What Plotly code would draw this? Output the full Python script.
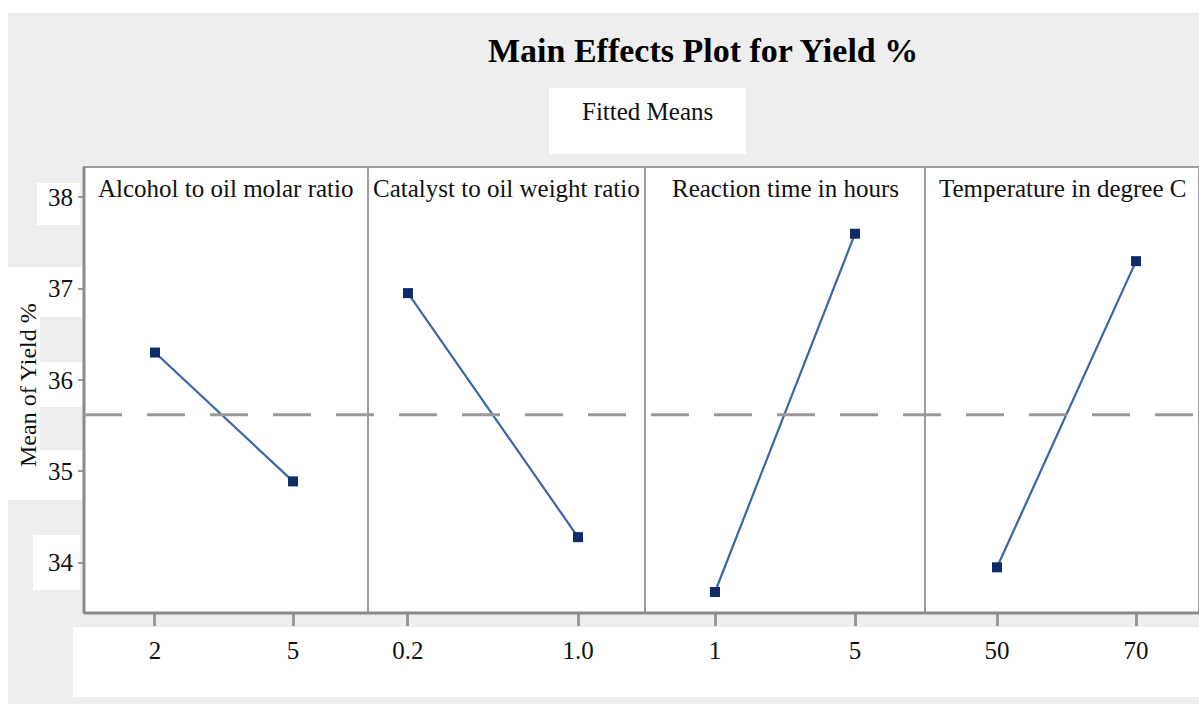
import numpy as np
import plotly.graph_objects as go

# Factors, their two levels and the fitted mean yield at each level
factors = ["Alcohol to oil molar ratio", "Catalyst to oil weight ratio",
           "Reaction time in hours", "Temperature in degree C"]
levels = [[2, 5], [0.2, 1.0], [1, 5], [50, 70]]
level_labels = [["2", "5"], ["0.2", "1.0"], ["1", "5"], ["50", "70"]]
fitted_means = [[36.30, 34.89], [36.95, 34.28], [33.68, 37.60], [33.95, 37.30]]
y_ticks = [34, 35, 36, 37, 38]

W, H = 1199, 704
FONT = "Liberation Serif, Times New Roman, serif"

# panel layout in pixels
panel_edges = [84, 368, 645, 925, 1199]
plot_top, plot_bottom = 167, 613
y_range = [33.45, 38.33]
# padding either side of the two levels, as a fraction of their spacing
pads = [(0.514, 0.543), (0.235, 0.394), (0.5, 0.5), (0.518, 0.453)]


def px(x):
    return x / W


def py(y):
    return 1 - y / H


grand_mean = float(np.mean(fitted_means))

fig = go.Figure()
for i, (lv, ym) in enumerate(zip(levels, fitted_means)):
    xa = "x" if i == 0 else f"x{i + 1}"
    fig.add_trace(go.Scatter(
        x=lv, y=ym, xaxis=xa, yaxis="y", mode="lines+markers",
        line=dict(color="#3a66a3", width=2.2),
        marker=dict(symbol="square", size=10, color="#0e2c69"),
        showlegend=False, hoverinfo="x+y",
    ))

layout = dict(
    width=W, height=H, autosize=False,
    margin=dict(l=0, r=0, t=0, b=0),
    paper_bgcolor="white", plot_bgcolor="white",
    font=dict(family=FONT, color="#111111"),
    yaxis=dict(
        domain=[py(plot_bottom), py(plot_top)], range=y_range, anchor="x",
        tickvals=y_ticks, ticktext=[str(t) for t in y_ticks],
        ticks="outside", ticklen=5, tickwidth=2, tickcolor="#999999",
        showgrid=False, zeroline=False, showline=False,
        tickfont=dict(size=25, family=FONT, color="#111111"),
        ticklabelstandoff=0,
    ),
)
for i in range(4):
    lo, hi = levels[i]
    span = hi - lo
    left_pad, right_pad = pads[i]
    key = "xaxis" if i == 0 else f"xaxis{i + 1}"
    layout[key] = dict(
        domain=[px(panel_edges[i]), px(panel_edges[i + 1])], anchor="y",
        range=[lo - left_pad * span, hi + right_pad * span],
        tickvals=levels[i], ticktext=level_labels[i],
        ticks="outside", ticklen=12, tickwidth=3, tickcolor="#9a9a9a",
        showgrid=False, zeroline=False, showline=False,
        tickfont=dict(size=25, family=FONT, color="#111111"),
        ticklabelstandoff=3,
    )
fig.update_layout(**layout)

shapes = []
# grey canvas and the white patches laid over it
shapes.append(dict(type="rect", xref="paper", yref="paper", layer="below",
                   x0=px(8), x1=1, y0=0, y1=py(13),
                   fillcolor="#eeeeee", line=dict(width=0)))
white_patches = [
    (84, 1199, 167, 613),   # plotting area
    (549, 746, 88, 154),    # subtitle box
    (73, 1199, 627, 697),   # x tick label strip
    (37, 80, 183, 225),
    (8, 83, 267, 317),
    (8, 40, 317, 500),
    (40, 83, 362, 407),
    (40, 83, 450, 500),
    (33, 80, 535, 590),
]
for x0, x1, y0, y1 in white_patches:
    shapes.append(dict(type="rect", xref="paper", yref="paper", layer="below",
                       x0=px(x0), x1=px(x1), y0=py(y1), y1=py(y0),
                       fillcolor="white", line=dict(width=0)))

# panel frames
for i in range(4):
    ref = "x" if i == 0 else f"x{i + 1}"
    shapes.append(dict(type="rect", xref=f"{ref} domain", yref="y domain",
                       x0=0, x1=1, y0=0, y1=1,
                       line=dict(color="#9c9c9c", width=2)))
# heavier left and bottom frame
shapes.append(dict(type="line", xref="paper", yref="paper",
                   x0=px(panel_edges[0]), x1=1, y0=py(plot_bottom), y1=py(plot_bottom),
                   line=dict(color="#8a8a8a", width=3)))
shapes.append(dict(type="line", xref="paper", yref="paper",
                   x0=px(panel_edges[0]), x1=px(panel_edges[0]),
                   y0=py(plot_bottom), y1=py(plot_top),
                   line=dict(color="#8a8a8a", width=3)))
# grand mean reference line
shapes.append(dict(type="line", xref="paper", yref="y",
                   x0=px(panel_edges[0]), x1=1, y0=grand_mean, y1=grand_mean,
                   line=dict(color="#9a9a9a", width=3, dash="38px,25px")))

annotations = [
    dict(text="<b>Main Effects Plot for Yield %</b>", xref="paper", yref="paper",
         x=px(703), y=py(50), xanchor="center", yanchor="middle", showarrow=False,
         font=dict(size=34, family=FONT, color="#000000")),
    dict(text="Fitted Means", xref="paper", yref="paper",
         x=px(647), y=py(112), xanchor="center", yanchor="middle", showarrow=False,
         font=dict(size=25, family=FONT, color="#111111")),
    dict(text="Mean of Yield %", xref="paper", yref="paper", textangle=-90,
         x=px(28), y=py(385), xanchor="center", yanchor="middle", showarrow=False,
         font=dict(size=24, family=FONT, color="#111111")),
]
for i, name in enumerate(factors):
    annotations.append(dict(
        text=name, xref="paper", yref="paper",
        x=px((panel_edges[i] + panel_edges[i + 1]) / 2), y=py(188),
        xanchor="center", yanchor="middle", showarrow=False,
        font=dict(size=25, family=FONT, color="#111111")))

fig.update_layout(shapes=shapes, annotations=annotations)
fig.write_html("out.html")
